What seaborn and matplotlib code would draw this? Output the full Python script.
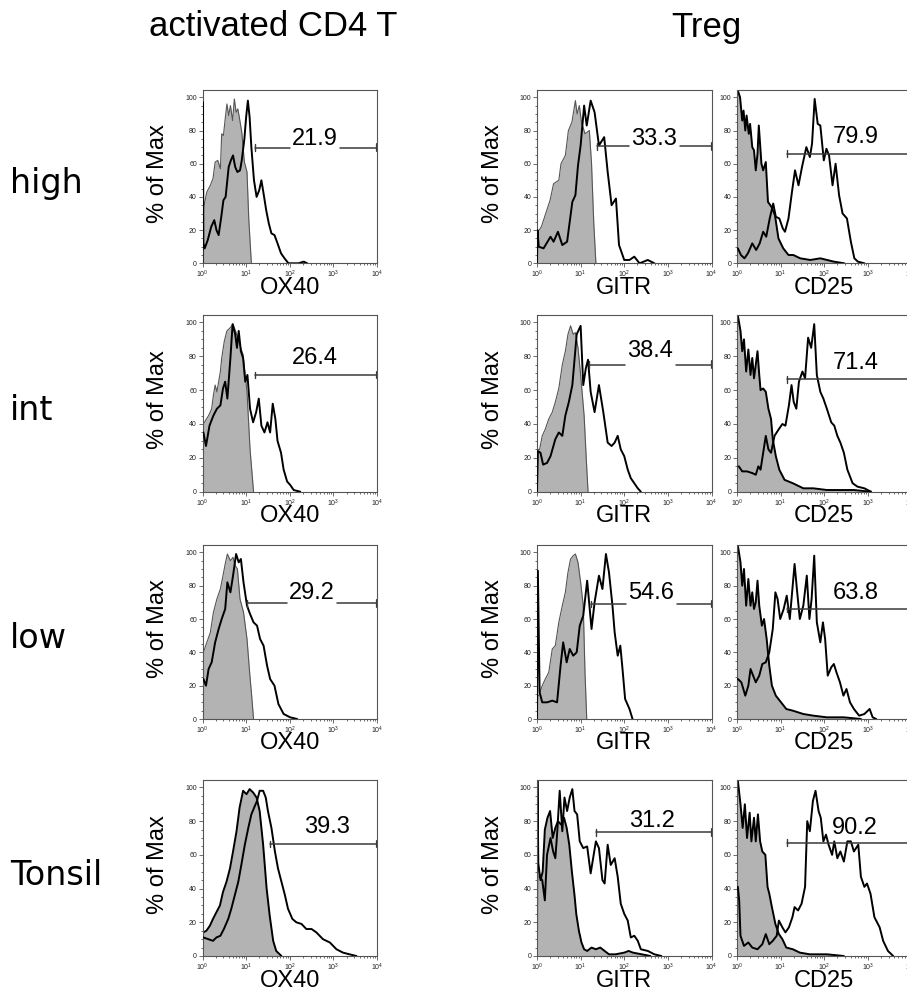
import matplotlib
matplotlib.use('Agg')
import matplotlib.pyplot as plt
from matplotlib.ticker import MultipleLocator, FixedLocator
import seaborn as sns

# histogram outlines: (log10 intensity, % of max)
# iso = grey filled control, stain = black line
ox40_high_iso = [(0.0, 33), (0.02, 33), (0.1, 43), (0.18, 47), (0.24, 51), (0.29, 61), (0.35, 62), (0.41, 57),
                 (0.44, 78), (0.48, 77), (0.52, 87), (0.56, 96), (0.6, 89), (0.64, 95), (0.69, 86), (0.73, 99),
                 (0.77, 91), (0.81, 93), (0.85, 87), (0.9, 79), (0.96, 61), (1.02, 55), (1.06, 27), (1.12, 0)]
ox40_high_stain = [(0.0, 0), (0.01, 97), (0.02, 12), (0.05, 9), (0.12, 14), (0.2, 22), (0.27, 26), (0.32, 20),
                   (0.37, 17), (0.43, 28), (0.48, 38), (0.53, 40), (0.6, 58), (0.65, 62), (0.7, 65), (0.75, 58),
                   (0.8, 55), (0.86, 56), (0.9, 62), (0.96, 75), (1.0, 88), (1.04, 98), (1.08, 88), (1.12, 70),
                   (1.18, 50), (1.24, 40), (1.3, 44), (1.35, 50), (1.4, 42), (1.46, 32), (1.52, 24), (1.58, 18),
                   (1.65, 17), (1.72, 12), (1.8, 6), (1.88, 3), (1.97, 0), (2.2, 0), (2.32, 1), (2.4, 0)]
gitr_high_iso = [(0.0, 18), (0.1, 22), (0.2, 30), (0.3, 38), (0.38, 48), (0.5, 50), (0.55, 60), (0.65, 65),
                 (0.72, 80), (0.8, 85), (0.88, 98), (0.92, 90), (0.97, 95), (1.02, 85), (1.1, 78), (1.2, 80),
                 (1.25, 60), (1.3, 25), (1.35, 0)]
gitr_high_stain = [(0.0, 0), (0.01, 20), (0.04, 10), (0.15, 9), (0.31, 16), (0.38, 13), (0.48, 19), (0.58, 11),
                   (0.69, 13), (0.81, 37), (0.88, 41), (0.94, 59), (1.0, 71), (1.08, 95), (1.14, 83), (1.23, 98),
                   (1.32, 91), (1.42, 71), (1.54, 76), (1.62, 55), (1.71, 35), (1.81, 39), (1.88, 11), (2.0, 2),
                   (2.12, 2), (2.23, 4), (2.35, 0), (2.54, 2), (2.69, 0)]
cd25_high_iso = [(0.0, 104), (0.02, 104), (0.07, 100), (0.12, 86), (0.15, 92), (0.19, 80), (0.22, 89), (0.27, 78),
                 (0.3, 84), (0.35, 70), (0.39, 68), (0.43, 56), (0.47, 66), (0.5, 83), (0.56, 60), (0.6, 56),
                 (0.66, 61), (0.71, 37), (0.79, 34), (0.87, 29), (0.95, 15), (1.06, 9), (1.18, 5), (1.29, 5),
                 (1.45, 3), (1.68, 2), (1.91, 3), (2.22, 1), (2.46, 0)]
cd25_high_stain = [(0.02, 9), (0.09, 5), (0.17, 3), (0.25, 6), (0.35, 12), (0.44, 8), (0.52, 12), (0.6, 19),
                   (0.67, 16), (0.75, 27), (0.83, 36), (0.89, 28), (0.97, 27), (1.05, 21), (1.1, 19), (1.18, 27),
                   (1.26, 43), (1.33, 56), (1.41, 47), (1.49, 58), (1.59, 70), (1.67, 64), (1.72, 72), (1.78, 99),
                   (1.85, 84), (1.91, 83), (1.99, 62), (2.05, 69), (2.11, 65), (2.19, 47), (2.26, 60), (2.34, 41),
                   (2.42, 30), (2.52, 27), (2.61, 13), (2.69, 3), (2.77, 1), (2.92, 0)]

ox40_int_iso = [(0.0, 40), (0.02, 40), (0.14, 45), (0.21, 49), (0.25, 57), (0.29, 63), (0.33, 59), (0.41, 71),
                (0.44, 79), (0.5, 89), (0.56, 95), (0.64, 97), (0.7, 99), (0.77, 94), (0.85, 87), (0.93, 81),
                (1.02, 59), (1.09, 25), (1.17, 0)]
ox40_int_stain = [(0.02, 35), (0.08, 27), (0.16, 39), (0.25, 45), (0.33, 49), (0.41, 51), (0.47, 61), (0.52, 65),
                  (0.57, 55), (0.64, 79), (0.69, 99), (0.75, 93), (0.79, 85), (0.83, 95), (0.88, 83), (0.93, 79),
                  (0.98, 65), (1.03, 69), (1.09, 49), (1.16, 41), (1.23, 47), (1.29, 55), (1.35, 39), (1.42, 35),
                  (1.49, 41), (1.55, 35), (1.61, 52), (1.67, 43), (1.72, 30), (1.8, 23), (1.86, 13), (1.94, 6),
                  (2.01, 4), (2.09, 1), (2.24, 0)]
gitr_int_iso = [(0.0, 25), (0.06, 25), (0.12, 33), (0.19, 37), (0.27, 43), (0.35, 47), (0.42, 53), (0.5, 61),
                (0.58, 75), (0.65, 83), (0.71, 93), (0.77, 98), (0.83, 93), (0.88, 94), (0.94, 85), (1.0, 69),
                (1.08, 45), (1.13, 19), (1.17, 0)]
gitr_int_stain = [(0.0, 0), (0.02, 24), (0.08, 23), (0.14, 16), (0.23, 17), (0.31, 21), (0.42, 31), (0.5, 35),
                  (0.58, 33), (0.65, 45), (0.73, 53), (0.81, 63), (0.91, 93), (1.0, 98), (1.06, 63), (1.12, 73),
                  (1.17, 78), (1.23, 59), (1.32, 47), (1.42, 63), (1.52, 47), (1.62, 29), (1.71, 27), (1.78, 29),
                  (1.85, 33), (1.92, 25), (2.0, 21), (2.08, 13), (2.15, 8), (2.23, 5), (2.31, 2), (2.38, 0)]
cd25_int_iso = [(0.0, 104), (0.02, 104), (0.08, 95), (0.12, 83), (0.16, 90), (0.21, 71), (0.26, 84), (0.31, 69),
                (0.35, 79), (0.39, 67), (0.43, 75), (0.47, 83), (0.51, 69), (0.54, 60), (0.6, 61), (0.66, 59),
                (0.72, 49), (0.78, 43), (0.82, 31), (0.89, 21), (0.97, 13), (1.09, 7), (1.28, 5), (1.52, 2),
                (1.75, 2), (2.06, 1), (2.37, 1), (2.68, 1), (3.07, 0)]
cd25_int_stain = [(0.04, 15), (0.12, 12), (0.23, 12), (0.35, 11), (0.43, 10), (0.49, 15), (0.54, 13), (0.6, 23),
                  (0.66, 33), (0.72, 25), (0.78, 23), (0.86, 33), (0.96, 37), (1.04, 40), (1.11, 39), (1.19, 51),
                  (1.25, 63), (1.3, 53), (1.36, 49), (1.42, 65), (1.5, 71), (1.56, 67), (1.63, 91), (1.7, 85),
                  (1.77, 99), (1.83, 69), (1.91, 59), (1.98, 55), (2.06, 49), (2.16, 41), (2.23, 39), (2.3, 33),
                  (2.37, 29), (2.45, 23), (2.53, 13), (2.65, 5), (2.76, 3), (2.92, 2), (3.07, 0)]

ox40_low_iso = [(0.0, 40), (0.02, 40), (0.1, 46), (0.18, 52), (0.25, 64), (0.33, 72), (0.41, 78), (0.47, 86),
                (0.52, 93), (0.57, 99), (0.64, 95), (0.7, 97), (0.75, 92), (0.8, 90), (0.86, 72), (0.94, 64),
                (1.02, 48), (1.08, 28), (1.13, 13), (1.17, 0)]
ox40_low_stain = [(0.02, 24), (0.08, 20), (0.14, 30), (0.21, 34), (0.29, 46), (0.37, 54), (0.44, 60), (0.52, 66),
                  (0.57, 82), (0.64, 76), (0.7, 86), (0.77, 99), (0.83, 94), (0.88, 96), (0.94, 82), (1.02, 68),
                  (1.09, 63), (1.17, 58), (1.25, 56), (1.32, 48), (1.4, 44), (1.48, 32), (1.55, 24), (1.65, 20),
                  (1.74, 9), (1.86, 3), (2.01, 1), (2.17, 0)]
gitr_low_iso = [(0.0, 14), (0.04, 14), (0.12, 20), (0.19, 24), (0.27, 28), (0.35, 42), (0.42, 44), (0.5, 58),
                (0.58, 68), (0.65, 76), (0.71, 88), (0.77, 96), (0.83, 98), (0.88, 99), (0.94, 94), (1.0, 82),
                (1.06, 68), (1.1, 28), (1.14, 0)]
gitr_low_stain = [(0.0, 0), (0.02, 89), (0.06, 16), (0.12, 10), (0.23, 10), (0.35, 11), (0.46, 10), (0.54, 32),
                  (0.6, 46), (0.68, 34), (0.75, 42), (0.83, 38), (0.91, 40), (0.98, 56), (1.06, 62), (1.15, 83),
                  (1.25, 54), (1.32, 70), (1.42, 86), (1.5, 78), (1.58, 99), (1.65, 88), (1.73, 68), (1.78, 52),
                  (1.85, 38), (1.91, 44), (1.96, 30), (2.02, 12), (2.12, 6), (2.19, 0)]
cd25_low_iso = [(0.0, 104), (0.02, 104), (0.08, 94), (0.12, 80), (0.16, 90), (0.21, 68), (0.26, 84), (0.31, 68),
                (0.35, 76), (0.39, 66), (0.43, 70), (0.47, 83), (0.51, 68), (0.57, 56), (0.62, 60), (0.68, 48),
                (0.74, 32), (0.8, 20), (0.89, 14), (1.01, 10), (1.13, 6), (1.28, 5), (1.52, 3), (1.75, 2),
                (2.06, 1), (2.45, 1), (2.84, 0)]
cd25_low_stain = [(0.02, 24), (0.1, 22), (0.19, 14), (0.26, 20), (0.31, 30), (0.37, 26), (0.43, 22), (0.51, 26),
                  (0.58, 33), (0.66, 34), (0.74, 40), (0.82, 54), (0.88, 76), (0.93, 72), (0.99, 60), (1.07, 66),
                  (1.14, 74), (1.21, 60), (1.27, 78), (1.32, 93), (1.38, 76), (1.44, 60), (1.52, 68), (1.6, 86),
                  (1.66, 60), (1.71, 72), (1.77, 98), (1.83, 58), (1.91, 46), (1.97, 58), (2.02, 48), (2.08, 26),
                  (2.16, 31), (2.22, 33), (2.28, 28), (2.36, 22), (2.44, 14), (2.51, 18), (2.59, 10), (2.68, 6),
                  (2.8, 2), (2.92, 3), (3.04, 6), (3.11, 1), (3.19, 0)]

ox40_tonsil_iso = [(0.0, 14), (0.02, 14), (0.09, 15), (0.17, 18), (0.24, 22), (0.32, 26), (0.4, 30), (0.47, 38),
                   (0.55, 44), (0.63, 52), (0.7, 62), (0.78, 74), (0.85, 88), (0.93, 98), (1.01, 96), (1.08, 99),
                   (1.16, 97), (1.24, 94), (1.31, 86), (1.39, 66), (1.47, 40), (1.54, 24), (1.62, 9), (1.69, 3),
                   (1.81, 0)]
ox40_tonsil_stain = [(0.02, 11), (0.13, 10), (0.24, 9), (0.32, 11), (0.41, 12), (0.49, 16), (0.59, 22), (0.66, 28),
                     (0.74, 36), (0.82, 44), (0.89, 54), (0.97, 66), (1.05, 76), (1.12, 84), (1.2, 89), (1.25, 92),
                     (1.31, 98), (1.39, 98), (1.45, 94), (1.5, 86), (1.58, 76), (1.66, 62), (1.73, 52), (1.81, 44),
                     (1.89, 36), (1.96, 28), (2.06, 22), (2.15, 20), (2.27, 19), (2.38, 16), (2.5, 16), (2.61, 14),
                     (2.76, 10), (2.92, 8), (3.07, 4), (3.22, 2), (3.37, 1), (3.53, 0)]
gitr_tonsil_iso = [(0.0, 0), (0.01, 104), (0.03, 55), (0.08, 45), (0.13, 50), (0.18, 75), (0.24, 82), (0.3, 86),
                   (0.36, 70), (0.42, 76), (0.48, 80), (0.55, 78), (0.62, 82), (0.68, 76), (0.74, 66), (0.8, 50),
                   (0.86, 36), (0.9, 25), (0.96, 15), (1.02, 8), (1.08, 4), (1.15, 3), (1.25, 5), (1.35, 4),
                   (1.45, 5), (1.55, 3), (1.65, 1), (1.8, 1), (2.0, 2), (2.1, 3), (2.2, 2), (2.4, 1), (2.6, 0)]
gitr_tonsil_stain = [(0.06, 47), (0.12, 45), (0.18, 33), (0.23, 60), (0.31, 70), (0.37, 62), (0.42, 58), (0.46, 72),
                     (0.52, 98), (0.58, 74), (0.63, 94), (0.69, 86), (0.75, 94), (0.81, 99), (0.86, 86), (0.92, 84),
                     (0.98, 68), (1.06, 64), (1.15, 65), (1.23, 49), (1.35, 68), (1.42, 64), (1.5, 45), (1.55, 43),
                     (1.62, 66), (1.69, 54), (1.78, 58), (1.85, 47), (1.92, 31), (2.0, 25), (2.08, 21), (2.15, 11),
                     (2.23, 12), (2.31, 9), (2.38, 4), (2.54, 3), (2.69, 1), (2.85, 0)]
cd25_tonsil_iso = [(0.0, 104), (0.02, 104), (0.08, 90), (0.13, 76), (0.18, 90), (0.23, 70), (0.29, 85), (0.33, 68),
                   (0.39, 82), (0.43, 68), (0.48, 84), (0.53, 68), (0.58, 62), (0.65, 60), (0.7, 41), (0.74, 37),
                   (0.8, 29), (0.88, 19), (0.96, 13), (1.04, 10), (1.13, 5), (1.28, 4), (1.44, 2), (1.67, 1),
                   (2.06, 1), (2.45, 0)]
cd25_tonsil_stain = [(0.02, 41), (0.05, 33), (0.08, 12), (0.16, 6), (0.26, 8), (0.35, 5), (0.47, 4), (0.58, 7),
                     (0.66, 13), (0.74, 7), (0.82, 9), (0.91, 12), (0.96, 21), (1.04, 17), (1.11, 14), (1.19, 17),
                     (1.27, 23), (1.32, 29), (1.4, 27), (1.48, 31), (1.56, 41), (1.61, 80), (1.67, 74), (1.74, 92),
                     (1.8, 98), (1.87, 86), (1.92, 82), (1.98, 68), (2.04, 72), (2.1, 66), (2.18, 60), (2.23, 68),
                     (2.3, 58), (2.37, 62), (2.45, 56), (2.53, 68), (2.61, 68), (2.68, 62), (2.78, 66), (2.84, 47),
                     (2.92, 41), (2.98, 43), (3.06, 37), (3.15, 23), (3.27, 17), (3.35, 9), (3.46, 3), (3.58, 0)]

row_names = ['high', 'int', 'low', 'Tonsil']
markers = ['OX40', 'GITR', 'CD25']
iso_curves = [[ox40_high_iso, gitr_high_iso, cd25_high_iso],
              [ox40_int_iso, gitr_int_iso, cd25_int_iso],
              [ox40_low_iso, gitr_low_iso, cd25_low_iso],
              [ox40_tonsil_iso, gitr_tonsil_iso, cd25_tonsil_iso]]
stain_curves = [[ox40_high_stain, gitr_high_stain, cd25_high_stain],
                [ox40_int_stain, gitr_int_stain, cd25_int_stain],
                [ox40_low_stain, gitr_low_stain, cd25_low_stain],
                [ox40_tonsil_stain, gitr_tonsil_stain, cd25_tonsil_stain]]

# gates: percent positive, gate start (log10), gate height (% of max)
gate_pct = [['21.9', '33.3', '79.9'], ['26.4', '38.4', '71.4'], ['29.2', '54.6', '63.8'], ['39.3', '31.2', '90.2']]
gate_start = [[1.21, 1.38, 1.15], [1.21, 1.19, 1.15], [1.02, 1.23, 1.15], [1.54, 1.35, 1.15]]
gate_level = [[69.6, 70.5, 66.0], [69.0, 75.0, 66.5], [69.4, 69.0, 66.3], [66.5, 73.4, 67.3]]

# layout (pixels of a 907x1001 canvas)
W, H = 907, 1001
col_left = [202.5, 537, 737]
panel_w = 174.5
row_top = [90, 315, 545, 780]
row_h = [173.3, 176.7, 174, 176]
label_x = [[2.58, 2.69, 2.72], [2.58, 2.6, 2.72], [2.51, 2.62, 2.72], [2.85, 2.64, 2.69]]
label_y = [[75, 75, 76], [79, 83, 76], [75.8, 75.5, 75.5], [76.8, 80.2, 76.2]]
label_cut = [[True, True, False], [False, True, False], [True, True, False], [False, False, False]]
gap_half = 0.58  # half width (decades) of the break in the gate bar around a label

sns.set_style('white')
plt.rcParams['font.family'] = ['Liberation Sans', 'DejaVu Sans']
plt.rcParams['text.color'] = 'black'
plt.rcParams['axes.labelcolor'] = 'black'

fig = plt.figure(figsize=(W / 100, H / 100), dpi=100)
gate_col = '#3a3a3a'

for r in range(4):
    for c in range(3):
        ax = fig.add_axes([col_left[c] / W, 1 - (row_top[r] + row_h[r]) / H, panel_w / W, row_h[r] / H])
        thick_iso = (c == 2) or (r == 3)

        iso = iso_curves[r][c]
        ix = [10 ** p[0] for p in iso]
        iy = [p[1] for p in iso]
        ax.fill_between(ix, iy, 0, color='#b3b3b3', lw=0, zorder=1)
        sns.lineplot(x=ix, y=iy, ax=ax, estimator=None, sort=False,
                     color='black' if thick_iso else '#555555', lw=1.4 if thick_iso else 0.8, zorder=2)

        st = stain_curves[r][c]
        sns.lineplot(x=[10 ** p[0] for p in st], y=[p[1] for p in st], ax=ax, estimator=None, sort=False,
                     color='black', lw=1.4, zorder=3)

        # gate bar, broken around the label where FlowJo does so
        g0 = 10 ** gate_start[r][c]
        gy = gate_level[r][c]
        if label_cut[r][c]:
            lx = label_x[r][c]
            ax.plot([g0, 10 ** (lx - gap_half)], [gy, gy], color=gate_col, lw=1.1, zorder=4)
            ax.plot([10 ** (lx + gap_half), 1e4], [gy, gy], color=gate_col, lw=1.1, zorder=4)
        else:
            ax.plot([g0, 1e4], [gy, gy], color=gate_col, lw=1.1, zorder=4)
        ax.plot([g0, g0], [gy - 2, gy + 2], color=gate_col, lw=1.0, zorder=4)
        ax.plot([1e4, 1e4], [gy - 2, gy + 2], color=gate_col, lw=1.6, zorder=4)
        ax.text(10 ** label_x[r][c], label_y[r][c], gate_pct[r][c], ha='center', va='center',
                fontsize=17, color='black', zorder=5)

        ax.set_xscale('log')
        ax.set_xlim(1, 1e4)
        ax.set_ylim(0, 104.4)
        ax.yaxis.set_major_locator(FixedLocator([0, 20, 40, 60, 80, 100]))
        ax.yaxis.set_minor_locator(MultipleLocator(5))
        ax.tick_params(which='both', direction='out', color='#555555', width=0.6, labelsize=5,
                       labelcolor='#222222', pad=1.0, bottom=True, left=True)
        ax.tick_params(which='major', length=3)
        ax.tick_params(which='minor', length=1.6)
        for s in ax.spines.values():
            s.set_color('#555555')
            s.set_linewidth(0.8)

        ax.set_xlabel(markers[c], fontsize=17, va='center')
        ax.xaxis.set_label_coords(0.5, -0.14)
        if c < 2:
            ax.set_ylabel('% of Max', fontsize=17)
            ax.yaxis.set_label_coords(-0.19, 0.52)
        else:
            ax.set_ylabel('')

for r in range(4):
    yc = row_top[r] + row_h[r] * 0.54
    fig.text(10 / W, 1 - yc / H, row_names[r], fontsize=24, family='DejaVu Sans', ha='left', va='center')

fig.text(273 / W, 1 - 26 / H, 'activated CD4 T', fontsize=25, ha='center', va='center')
fig.text(706 / W, 1 - 28 / H, 'Treg', fontsize=25, ha='center', va='center')

fig.savefig('out.png', dpi=100)
